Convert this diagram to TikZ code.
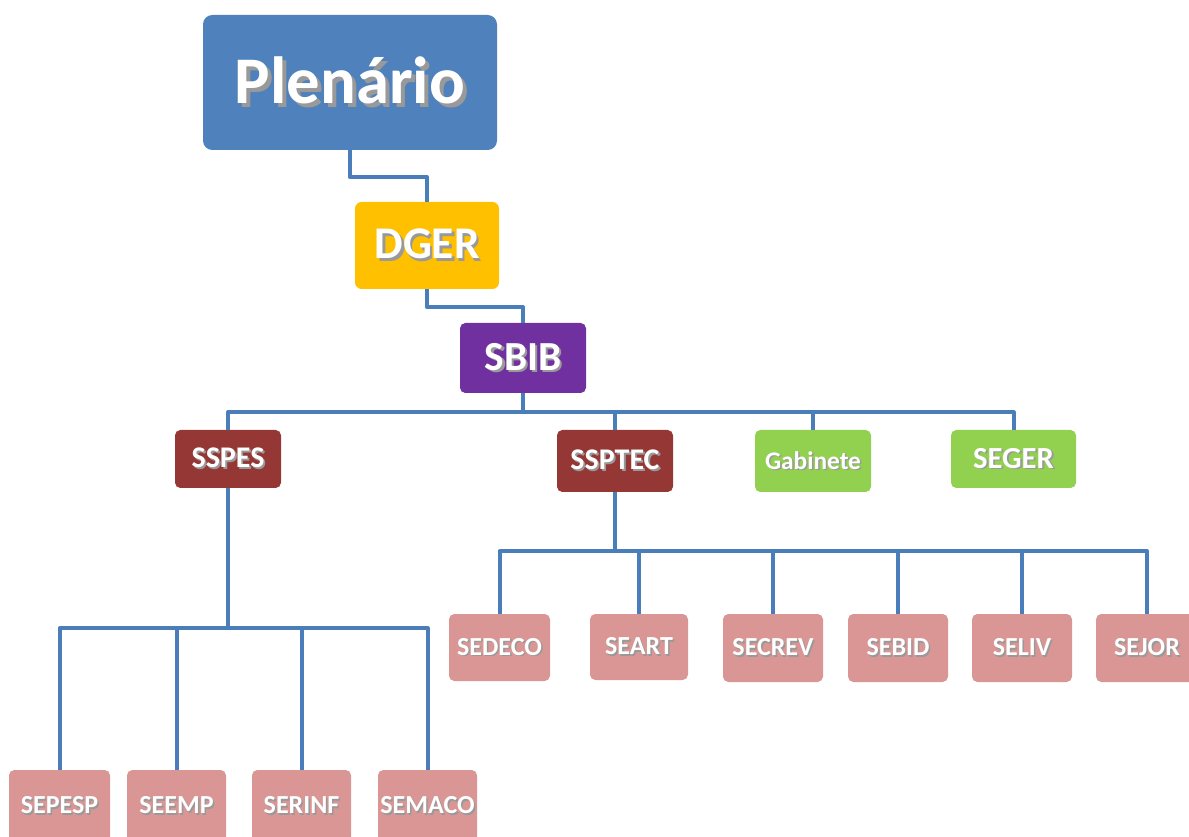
\documentclass[tikz,border=0pt]{standalone}
\usepackage{fontspec}
\setmainfont{Carlito}
\definecolor{cplen}{HTML}{4F81BD}
\definecolor{cdger}{HTML}{FFC000}
\definecolor{csbib}{HTML}{7030A0}
\definecolor{cdark}{HTML}{953735}
\definecolor{cgreen}{HTML}{92D050}
\definecolor{cpink}{HTML}{D99694}
\definecolor{cline}{HTML}{4A7EBB}
\newcommand\shd[1]{\leavevmode\rlap{\kern0.06em\raisebox{-0.06em}{\color{black!40}#1}}#1}
\tikzset{
  box/.style={rectangle, rounded corners=4pt, inner sep=0pt, text=white, align=center},
  sz/.style 2 args={minimum width=#1*0.75pt, minimum height=#2*0.75pt},
  conn/.style={draw=cline, line width=3pt, line join=round},
  plenbox/.style={box, fill=cplen, rounded corners=7pt, font=\fontsize{50}{52}\selectfont\bfseries},
  dgerbox/.style={box, fill=cdger, rounded corners=5pt, font=\fontsize{34}{36}\selectfont\bfseries},
  sbibbox/.style={box, fill=csbib, font=\fontsize{31}{33}\selectfont\bfseries},
  darkbox/.style={box, fill=cdark, font=\fontsize{22.5}{24}\selectfont\bfseries},
  greenbox/.style={box, fill=cgreen, font=\fontsize{23}{25}\selectfont\bfseries},
  pinkbox/.style={box, fill=cpink, font=\fontsize{19.5}{21}\selectfont\bfseries}
}
\begin{document}
\begin{tikzpicture}[x=0.75pt,y=-0.75pt]
\useasboundingbox (0,0) rectangle (1189,837);
\clip (0,0) rectangle (1189,837);
\node[plenbox, sz={294}{135}] (plen) at (350,82.5) {\shd{Plenário}};
\node[dgerbox, sz={144}{87}] (dger) at (427,245.5) {\shd{DGER}};
\node[sbibbox, sz={126}{70}] (sbib) at (523,358) {\shd{SBIB}};
\node[darkbox, sz={106}{58}] (sspes) at (228,459) {\shd{SSPES}};
\node[darkbox, sz={116}{62}] (ssptec) at (615,461) {\shd{SSPTEC}};
\node[greenbox, sz={116}{62}, font=\fontsize{19}{21}\selectfont\bfseries] (gab) at (813,461) {\shd{Gabinete}};
\node[greenbox, sz={125}{58}] (seger) at (1013.5,459) {\shd{SEGER}};
\node[pinkbox, sz={101}{67}] (sedeco) at (499.5,647.5) {\shd{SEDECO}};
\node[pinkbox, sz={98}{66}] (seart) at (639,647) {\shd{SEART}};
\node[pinkbox, sz={100}{68}] (secrev) at (773,648) {\shd{SECREV}};
\node[pinkbox, sz={100}{68}] (sebid) at (898,648) {\shd{SEBID}};
\node[pinkbox, sz={100}{68}] (seliv) at (1022,648) {\shd{SELIV}};
\node[pinkbox, sz={102}{68}] (sejor) at (1147,648) {\shd{SEJOR}};
\node[pinkbox, sz={101}{72}] (sepesp) at (59.5,806) {\shd{SEPESP}};
\node[pinkbox, sz={99}{72}] (seemp) at (176.5,806) {\shd{SEEMP}};
\node[pinkbox, sz={99}{72}] (serinf) at (301.5,806) {\shd{SERINF}};
\node[pinkbox, sz={99}{72}] (semaco) at (427.5,806) {\shd{SEMACO}};
% connectors
\draw[conn] (plen.south) -- ++(0,27) -| (dger.north);
\draw[conn] (dger.south) -- ++(0,18) -| (sbib.north);
\draw[conn] (sbib.south) -- ++(0,19) coordinate (b1);
\draw[conn] (sspes.north) |- (b1) -| (seger.north);
\draw[conn] (ssptec.north) -- (ssptec.north |- b1);
\draw[conn] (gab.north) -- (gab.north |- b1);
\draw[conn] (ssptec.south) -- ++(0,59) coordinate (b2);
\draw[conn] (sedeco.north) |- (b2) -| (sejor.north);
\draw[conn] (seart.north) -- (seart.north |- b2);
\draw[conn] (secrev.north) -- (secrev.north |- b2);
\draw[conn] (sebid.north) -- (sebid.north |- b2);
\draw[conn] (seliv.north) -- (seliv.north |- b2);
\draw[conn] (sspes.south) -- ++(0,140) coordinate (b3);
\draw[conn] (sepesp.north) |- (b3) -| (semaco.north);
\draw[conn] (seemp.north) -- (seemp.north |- b3);
\draw[conn] (serinf.north) -- (serinf.north |- b3);
\end{tikzpicture}
\end{document}
